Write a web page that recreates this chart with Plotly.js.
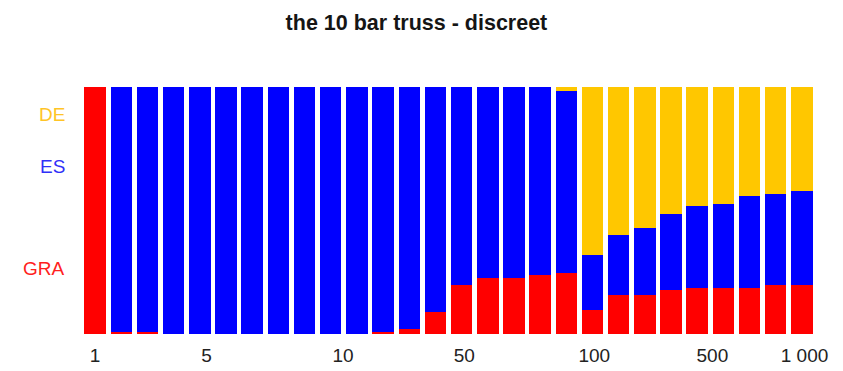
<!DOCTYPE html>
<html>
<head>
<meta charset="utf-8">
<script src="https://cdn.plot.ly/plotly-3.0.1.min.js"></script>
<style>html,body{margin:0;padding:0;background:#fff;}#chart{width:843px;height:371px;}</style>
</head>
<body>
<div id="chart"></div>
<script>
// 28 runs (bars), left to right
var runs = ["r1","r2","r3","r4","r5","r6","r7","r8","r9","r10","r11","r12","r13","r14",
            "r15","r16","r17","r18","r19","r20","r21","r22","r23","r24","r25","r26","r27","r28"];
// shares in percent (stacked to 100)
var GRA = [100, 1, 1, 0, 0, 0, 0, 0, 0, 0, 0, 0.8, 2, 8.9, 19.7, 22.8, 22.8, 23.7, 24.9, 9.8, 15.8, 15.8, 17.7, 18.7, 18.7, 18.7, 19.7, 19.7];
var ES  = [0, 99, 99, 100, 100, 100, 100, 100, 100, 100, 100, 99.2, 98, 91.1, 80.3, 77.2, 77.2, 76.3, 73.3, 22.0, 24.1, 27.0, 31.0, 33.0, 34.0, 37.0, 37.1, 38.0];
var DE  = [0, 0, 0, 0, 0, 0, 0, 0, 0, 0, 0, 0, 0, 0, 0, 0, 0, 0, 1.8, 68.2, 60.1, 57.2, 51.3, 48.3, 47.3, 44.3, 43.2, 42.3];
var seriesNames = ["GRA", "ES", "DE"];
var tickLabels = ["1", "5", "10", "50", "100", "500", "1 000"];
var title = "the 10 bar truss - discreet";

var colors = {GRA: "#FF0000", ES: "#0000FF", DE: "#FFC700"};
var labelColors = {GRA: "#FF2020", ES: "#3030F8", DE: "#FFC426"};
var xs = runs.map(function (_, i) { return i; });
var vals = {GRA: GRA, ES: ES, DE: DE};

var traces = seriesNames.map(function (n) {
  return {
    type: "bar", name: n, x: xs, y: vals[n], width: 0.82,
    marker: {color: colors[n], line: {width: 0}},
    hoverinfo: "x+y+name"
  };
});

// tick label placement along the bar index axis (as in the reference)
var tickAt = [0, 4.26, 9.47, 14.1, 19.07, 23.58, 27.1];
// label heights (in % of the y axis) for the series names on the left
var labelAt = {DE: 88.8, ES: 68.0, GRA: 26.4};

var annotations = seriesNames.map(function (n) {
  return {
    text: n, xref: "paper", yref: "y", x: -0.021, y: labelAt[n],
    xanchor: "right", yanchor: "middle", showarrow: false,
    font: {family: "Liberation Sans, Arial, sans-serif", size: 19, color: labelColors[n]}
  };
});

var layout = {
  width: 843, height: 371,
  margin: {l: 82, r: 28, t: 87, b: 37, pad: 0},
  paper_bgcolor: "#fff", plot_bgcolor: "#fff",
  barmode: "stack", showlegend: false,
  title: {
    text: title, x: 0.494, xref: "container", xanchor: "center",
    y: 0.94, yref: "container", yanchor: "middle",
    font: {family: "Liberation Sans, Arial, sans-serif", size: 21.5, weight: "bold", color: "#151515"}
  },
  xaxis: {
    range: [-0.5, 27.5], tickmode: "array", tickvals: tickAt, ticktext: tickLabels,
    showgrid: false, zeroline: false, showline: false, ticks: "",
    ticklabelstandoff: 8,
    tickfont: {family: "Liberation Sans, Arial, sans-serif", size: 19, color: "#222"},
    fixedrange: true
  },
  yaxis: {
    range: [0, 100], showgrid: false, zeroline: false, showline: false,
    showticklabels: false, ticks: "", fixedrange: true
  },
  annotations: annotations
};

Plotly.newPlot("chart", traces, layout, {displayModeBar: false, staticPlot: true});
</script>
</body>
</html>
